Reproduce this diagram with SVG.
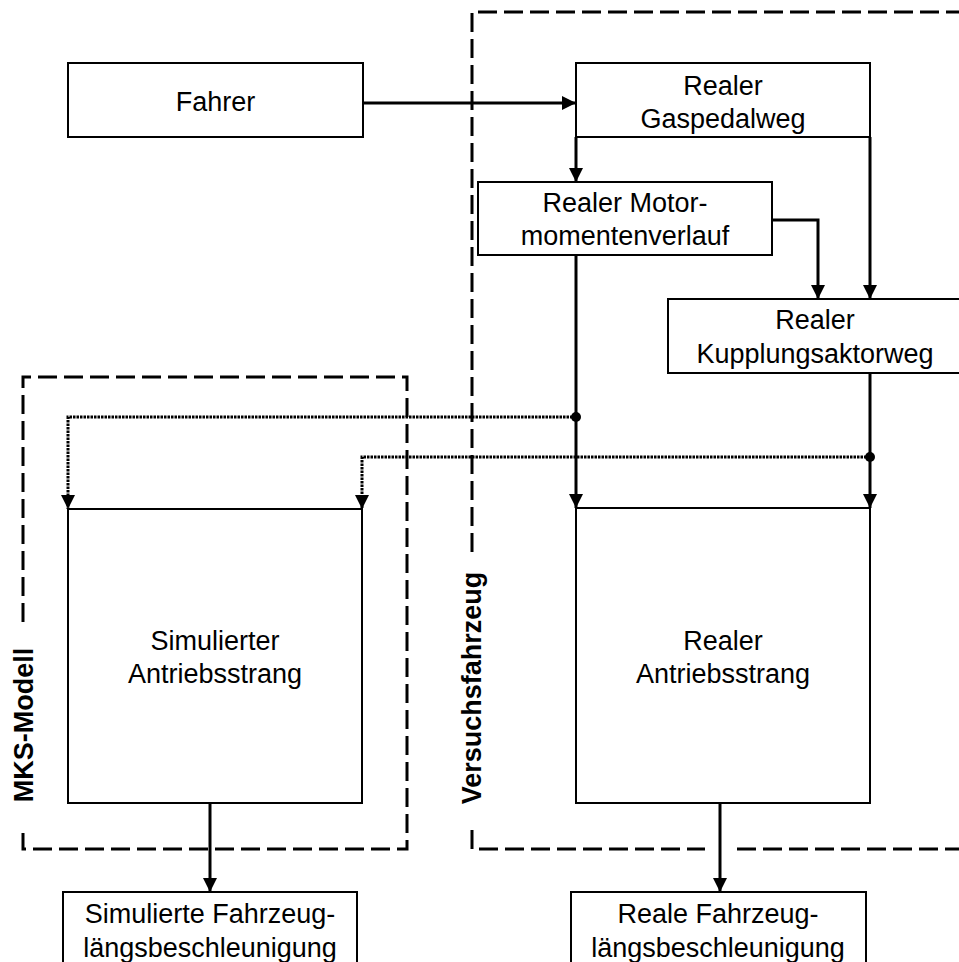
<svg xmlns="http://www.w3.org/2000/svg" width="959" height="962" viewBox="0 0 959 962">
  <style>
    .box { fill: #fff; stroke: #000; stroke-width: 2; }
    .lbl { font-family: "Liberation Sans", Arial, sans-serif; font-size: 27px; fill: #000; text-anchor: middle; }
    .frame-lbl { font-family: "Liberation Sans", Arial, sans-serif; font-size: 27px; font-weight: bold; fill: #000; text-anchor: middle; }
    .frame { fill: none; stroke: #000; stroke-width: 3; stroke-dasharray: 19 7; }
    .flow { fill: none; stroke: #000; stroke-width: 3; marker-end: url(#arrow); }
    .sig { fill: none; stroke: #000; stroke-width: 3; stroke-dasharray: 2.5 1; marker-end: url(#arrow); }
  </style>
  <defs>
    <marker id="arrow" viewBox="0 0 14 14" refX="14" refY="7" markerWidth="14" markerHeight="14" markerUnits="userSpaceOnUse" orient="auto">
      <path d="M0,0 L14,7 L0,14 z" fill="#000"/>
    </marker>
  </defs>
  <rect width="959" height="962" fill="#fff"/>

  <!-- system boundaries -->
  <g id="frame-mks">
    <path class="frame" d="M23,622 V377 H407 V849 H23 V830"/>
    <text class="frame-lbl" transform="translate(33,725) rotate(-90)">MKS-Modell</text>
  </g>
  <g id="frame-versuchsfahrzeug">
    <path class="frame" d="M472,552 V12 H965"/>
    <path class="frame" d="M472,830 V849 H705"/>
    <path class="frame" d="M737,849 H965"/>
    <text class="frame-lbl" transform="translate(481,688) rotate(-90)">Versuchsfahrzeug</text>
  </g>

  <!-- connectors -->
  <g id="connectors">
    <path class="flow" d="M363,103 H576"/>
    <path class="flow" d="M576,137 V182"/>
    <path class="flow" d="M870,137 V299"/>
    <path class="flow" d="M772,220 H818 V299"/>
    <path class="flow" d="M576,255 V508"/>
    <path class="flow" d="M870,373 V508"/>
    <path class="sig" d="M576,417 H68 V509"/>
    <path class="sig" d="M870,457 H362 V509"/>
    <path class="flow" d="M210,803 V892"/>
    <path class="flow" d="M720,803 V892"/>
    <circle cx="576" cy="417" r="5" fill="#000"/>
    <circle cx="870" cy="457" r="5" fill="#000"/>
  </g>

  <!-- nodes -->
  <g id="fahrer">
    <rect class="box" x="68" y="63" width="295" height="74"/>
    <text class="lbl" x="215.5" y="111">Fahrer</text>
  </g>
  <g id="gaspedalweg">
    <rect class="box" x="576" y="63" width="294" height="74"/>
    <text class="lbl" x="723" y="95">Realer</text>
    <text class="lbl" x="723" y="128">Gaspedalweg</text>
  </g>
  <g id="motormoment">
    <rect class="box" x="478" y="182" width="294" height="73"/>
    <text class="lbl" x="625" y="212">Realer Motor-</text>
    <text class="lbl" x="625" y="245">momentenverlauf</text>
  </g>
  <g id="kupplungsaktorweg">
    <rect class="box" x="668" y="299" width="294" height="74"/>
    <text class="lbl" x="815" y="329">Realer</text>
    <text class="lbl" x="815" y="363">Kupplungsaktorweg</text>
  </g>
  <g id="sim-antriebsstrang">
    <rect class="box" x="68" y="509" width="294" height="294"/>
    <text class="lbl" x="215" y="650">Simulierter</text>
    <text class="lbl" x="215" y="683">Antriebsstrang</text>
  </g>
  <g id="real-antriebsstrang">
    <rect class="box" x="576" y="508" width="294" height="295"/>
    <text class="lbl" x="723" y="650">Realer</text>
    <text class="lbl" x="723" y="683">Antriebsstrang</text>
  </g>
  <g id="sim-beschleunigung">
    <rect class="box" x="63" y="892" width="294" height="80"/>
    <text class="lbl" x="210" y="923">Simulierte Fahrzeug-</text>
    <text class="lbl" x="210" y="957">längsbeschleunigung</text>
  </g>
  <g id="real-beschleunigung">
    <rect class="box" x="571" y="892" width="295" height="80"/>
    <text class="lbl" x="718" y="923">Reale Fahrzeug-</text>
    <text class="lbl" x="718" y="957">längsbeschleunigung</text>
  </g>
</svg>
